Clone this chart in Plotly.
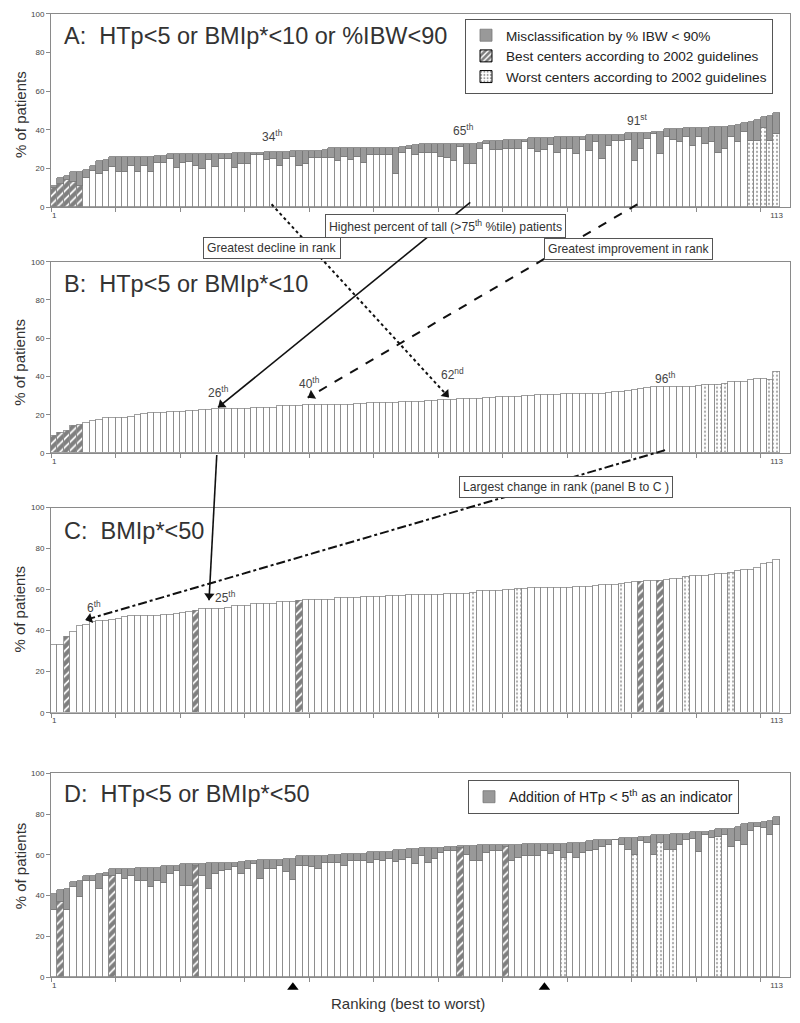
import math
import plotly.graph_objects as go

# ---------------- data ----------------
ranks = list(range(1, 114))

A_total = [11, 15, 16, 18, 18.5, 19.5, 21.5, 24, 24.5, 26,
           26, 26, 26, 26, 26, 26, 26.5, 26.5, 27.5, 27.5,
           27.5, 27.5, 27.5, 27.5, 27.5, 27.5, 27.5, 27.5, 28, 28,
           28.3, 28.3, 28.3, 28.5, 28.5, 28.5, 28.5, 29, 29, 29,
           29, 29.2, 29.5, 30.5, 30.5, 30.5, 30.5, 30.5, 30.5, 30.7,
           30.7, 30.7, 30.9, 30.9, 31, 31.5, 32, 32.5, 32.5, 32.7,
           32.7, 32.8, 32.8, 33, 33, 33, 33.2, 34.5, 34.5, 34.5,
           34.6, 34.7, 34.8, 35, 36, 36, 36, 36, 36.2, 36.2,
           36.3, 36.3, 36.5, 37.3, 37.3, 37.3, 37.4, 37.5, 37.5, 38.5,
           38.5, 38.5, 38.6, 38.7, 38.8, 40.5, 40.6, 40.7, 40.8, 40.8,
           40.9, 41, 41.5, 41.6, 41.7, 41.8, 42.5, 43.5, 44, 45,
           46.5, 47, 49]
A_base = [10, 12, 14, 13, 11, 15, 19, 17, 19, 21,
          18.5, 18.5, 21.5, 18, 21.5, 18, 23, 23, 25, 20.5,
          23, 23.5, 21.5, 20, 24.5, 21, 25, 25, 20.5, 22.5,
          22.5, 27, 27, 24.5, 25, 21.5, 25, 26, 21.5, 22.5,
          25.5, 25.5, 25.5, 25.5, 24, 26, 24.5, 26, 23, 27,
          27, 27, 27, 17, 28, 30, 27, 28, 28, 28.3,
          26.2, 25.4, 23.7, 31.4, 22.3, 22.3, 30.2, 33, 29.7, 29.7,
          30.2, 30.2, 30.2, 34, 30.2, 28.8, 29.7, 32.2, 28, 30.2,
          30.2, 27.4, 34.8, 29.3, 33.9, 24.9, 31.7, 34.3, 34.3, 34.8,
          24.2, 30, 35.1, 37.7, 27.4, 36.5, 34.8, 33.9, 36.5, 31.7,
          36.5, 33, 33.9, 28, 30.2, 36.5, 33.9, 39, 34.5, 34.5,
          41, 34.5, 38]

B_values = [9.2, 10.4, 11.8, 14.3, 14.6, 15.7, 17, 17.4, 18.6, 18.6,
            18.6, 18.7, 19.1, 19.8, 20.5, 21.2, 21.2, 21.3, 21.7, 21.7,
            21.8, 22.3, 22.3, 22.4, 22.5, 23, 23, 23, 23, 23.1,
            23.2, 23.5, 23.5, 23.6, 23.7, 24.5, 24.6, 24.7, 24.8, 25.1,
            25.2, 25.2, 25.2, 25.3, 25.3, 25.4, 25.5, 25.6, 25.8, 26.3,
            26.4, 26.4, 26.5, 26.5, 26.7, 27, 27, 27, 27.1, 27.3,
            27.8, 27.8, 28.1, 28.2, 28.2, 28.3, 28.6, 28.7, 28.8, 29.3,
            29.5, 29.6, 29.6, 29.7, 30.2, 30.3, 30.3, 30.4, 30.7, 30.8,
            30.8, 30.8, 30.9, 30.9, 31, 31, 31.7, 31.8, 31.9, 32.8,
            33, 33.8, 34.3, 34.4, 34.4, 34.5, 34.5, 34.5, 34.6, 34.7,
            35.1, 35.6, 35.7, 35.7, 36, 37.1, 37.2, 37.3, 38.5, 38.6,
            38.6, 38.4, 42.3]

C_values = [33.4, 33.4, 37, 39.8, 42.7, 43.2, 44.5, 44.7, 44.7, 45.4,
            45.7, 46.8, 47.2, 47.3, 47.3, 47.4, 47.5, 47.9, 48, 48.1,
            49, 49.3, 50, 50.7, 50.8, 50.8, 50.9, 51.5, 52, 52.1,
            52.2, 53, 53.1, 53.2, 53.3, 54.2, 54.3, 54.4, 54.5, 55,
            55.1, 55.2, 55.2, 55.3, 55.9, 56, 56, 56.1, 56.6, 56.7,
            56.8, 56.8, 56.9, 56.9, 57.2, 57.5, 57.6, 57.7, 57.7, 57.8,
            57.8, 57.9, 57.9, 58, 58.2, 58.5, 59.5, 59.6, 59.7, 59.7,
            59.8, 60, 60.3, 60.4, 60.8, 60.9, 61, 61, 61.1, 61.1,
            61.2, 61.4, 61.6, 61.7, 62.2, 62.4, 62.5, 62.7, 62.9, 63.5,
            63.7, 63.8, 64.3, 64.5, 64.6, 65.1, 65.3, 65.4, 66.5, 66.8,
            67, 67.1, 67.5, 67.6, 67.7, 68.5, 69.5, 69.8, 70, 71,
            72.6, 73.4, 74.8]

D_total = [40.6, 42.6, 43.4, 46.6, 47, 49.5, 49.8, 50.6, 51.1, 52.8,
           53, 53, 53.1, 53.6, 53.6, 53.7, 53.7, 54.4, 54.4, 54.5,
           55.5, 55.5, 55.5, 55.6, 56, 56, 56, 56.1, 56.1, 56.2,
           57.1, 57.1, 57.2, 57.2, 57.3, 57.3, 58, 58, 59.2, 59.2,
           59.3, 59.3, 59.4, 60, 60, 60.1, 60.1, 60.2, 60.2, 61.2,
           61.2, 61.3, 61.3, 62.5, 62.5, 62.6, 63, 63.3, 63.3, 63.3,
           63.5, 63.8, 64, 64.4, 64.4, 64.4, 64.5, 64.5, 64.5, 64.6,
           64.9, 64.9, 64.9, 65, 65, 65, 65.1, 65.2, 65.2, 65.3,
           65.7, 65.7, 65.8, 66.5, 67.3, 67.3, 67.3, 67.3, 68.4, 68.4,
           68.4, 68.5, 68.5, 69.4, 69.4, 69.5, 70.2, 70.2, 70.3, 70.9,
           70.9, 71, 71.8, 72.5, 72.5, 72.6, 73.8, 75, 75.7, 75.7,
           75.8, 76.7, 78.6]
D_base = [33, 36.9, 33, 44.2, 39.3, 47.1, 47.1, 43, 49.5, 49.5,
          50.6, 47.9, 49.8, 47.1, 47.1, 44.2, 47.1, 46, 50.3, 51.9,
          44.7, 44.7, 54.4, 49.5, 43, 50.6, 51.9, 52.3, 53.9, 50.6,
          52.8, 55.2, 47.9, 52.8, 52.8, 54.4, 51.6, 47.6, 54.7, 54.7,
          53.9, 52.8, 56, 56, 56, 54.7, 56.8, 56.8, 56.8, 56,
          57.6, 57.1, 58.1, 56.3, 57.6, 58.4, 55.5, 59.2, 56, 57.9,
          60.8, 61.7, 61.7, 63.3, 60, 56.8, 56.8, 60.8, 61.7, 61.7,
          63.8, 57.1, 58.4, 59.2, 59.2, 59.5, 61.7, 60.5, 61.7, 58.4,
          60.8, 58.4, 60.8, 61.7, 62.5, 64, 64.9, 67.3, 64.9, 62.5,
          60, 66.5, 65.7, 60, 65.7, 62.5, 62.5, 64.9, 67.3, 67.6,
          61.2, 69.7, 68.1, 68.9, 69.7, 63.8, 66.5, 64.9, 71.4, 73.8,
          73, 69.7, 74.6]

# best (hatched) and worst (dotted) centres according to 2002 guidelines, by rank
best_A = [1, 2, 3, 4, 5]
worst_A = [109, 110, 111, 112, 113]
best_B = [1, 2, 3, 4, 5]
worst_B = [102, 104, 105, 112, 113]
best_C = [3, 23, 39, 92, 95]
worst_C = [66, 73, 89, 99, 106]
best_D = [2, 10, 23, 64, 71]
worst_D = [80, 91, 95, 97, 104]

marked_ranks_D = [38, 77]

panel_titles = {
    "A": "A:\u00a0 HTp&lt;5 or BMIp*&lt;10 or %IBW&lt;90",
    "B": "B:\u00a0 HTp&lt;5 or BMIp*&lt;10",
    "C": "C:\u00a0 BMIp*&lt;50",
    "D": "D:\u00a0 HTp&lt;5 or BMIp*&lt;50",
}
y_ticks = [0, 20, 40, 60, 80, 100]
x_ticks = [1, 113]

# ---------------- layout helpers ----------------
W, H = 800, 1023
FONT = "Liberation Sans, Arial, sans-serif"
panel_px = {"A": (205, 10), "B": (453, 260), "C": (715, 508), "D": (982, 776)}
doms = {k: [1 - a / H, 1 - b / H] for k, (a, b) in panel_px.items()}
axis_id = {"A": "", "B": "2", "C": "3", "D": "4"}
x_left, x_right = 51, 790
bar_px = 6.45
x_range = [0.5, 0.5 + (x_right - x_left) / bar_px]
xdom = [x_left / W, x_right / W]

EDGE = "#8a8a8a"
GRAY = "#999999"


def pattern_for(best, worst):
    shp, fg, sz, sol = [], [], [], []
    for r in ranks:
        if r in best:
            shp.append("/"); fg.append("#000000"); sz.append(6); sol.append(0.7)
        elif r in worst:
            shp.append("."); fg.append("#555555"); sz.append(4); sol.append(0.25)
        else:
            shp.append(""); fg.append("#000000"); sz.append(6); sol.append(0.3)
    return shp, fg, sz, sol


fig = go.Figure()


def add_base(panel, values, best, worst):
    shp, fg, sz, sol = pattern_for(best, worst)
    fig.add_trace(go.Bar(
        x=ranks, y=values, xaxis="x" + axis_id[panel], yaxis="y" + axis_id[panel],
        marker=dict(color="white", line=dict(color=EDGE, width=0.8),
                    pattern=dict(shape=shp, fgcolor=fg, bgcolor="white",
                                 size=sz, solidity=sol, fillmode="overlay")),
        showlegend=False, hoverinfo="x+y"))


def add_extra(panel, total, base, name, legend):
    fig.add_trace(go.Bar(
        x=ranks, y=[t - b for t, b in zip(total, base)],
        xaxis="x" + axis_id[panel], yaxis="y" + axis_id[panel],
        marker=dict(color=GRAY, line=dict(color="#777777", width=0.8)),
        name=name, legend=legend, showlegend=True))


add_base("A", A_base, best_A, worst_A)
add_extra("A", A_total, A_base, "Misclassification by % IBW &lt; 90%", "legend")
fig.add_trace(go.Bar(x=[None], y=[None], name="Best centers according to 2002 guidelines",
                     marker=dict(color="white", line=dict(color="#000", width=1),
                                 pattern=dict(shape="/", fgcolor="#000", size=5, solidity=0.65)),
                     legend="legend"))
fig.add_trace(go.Bar(x=[None], y=[None], name="Worst centers according to 2002 guidelines",
                     marker=dict(color="white", line=dict(color="#000", width=1),
                                 pattern=dict(shape=".", fgcolor="#333", size=4, solidity=0.3)),
                     legend="legend"))
add_base("B", B_values, best_B, worst_B)
add_base("C", C_values, best_C, worst_C)
add_base("D", D_base, best_D, worst_D)
add_extra("D", D_total, D_base, "Addition of HTp &lt; 5<sup>th</sup> as an indicator", "legend2")

# marked ranks below panel D: drawn in a thin helper axis strip under panel D
fig.add_trace(go.Scatter(x=marked_ranks_D, y=[0.5] * len(marked_ranks_D), xaxis="x4", yaxis="y5",
                         mode="markers", showlegend=False, hoverinfo="x",
                         marker=dict(symbol="triangle-up", size=10, color="black")))

layout = dict(width=W, height=H, margin=dict(l=0, r=0, t=0, b=0),
              plot_bgcolor="white", paper_bgcolor="white", barmode="stack", bargap=0,
              font=dict(family=FONT, color="#333"), showlegend=True)

for p in "ABCD":
    k = axis_id[p]
    layout["xaxis" + k] = dict(domain=xdom, range=x_range, anchor="y" + k,
                               tickmode="array", tickvals=x_ticks, ticktext=[str(t) for t in x_ticks],
                               ticks="", tickfont=dict(size=8, color="#444"),
                               showline=True, linecolor=EDGE, linewidth=1, mirror=True,
                               showgrid=False, zeroline=False,
                               minor=dict(tickmode="array", tickvals=[0.5 + 10 * i for i in range(12)],
                                          ticks="outside", ticklen=4, tickcolor=EDGE))
    layout["yaxis" + k] = dict(domain=doms[p], range=[0, 100], anchor="x" + k,
                               tickmode="array", tickvals=y_ticks, ticks="outside", ticklen=4,
                               tickcolor=EDGE, tickfont=dict(size=8, color="#444"),
                               showline=True, linecolor=EDGE, linewidth=1, mirror=True,
                               showgrid=False, zeroline=False)
layout["yaxis5"] = dict(domain=[1 - 1000 / H, 1 - 984 / H], range=[0, 1], anchor="x4",
                        visible=False, fixedrange=True)

layout["legend"] = dict(x=465 / W, y=1 - 15 / H, xanchor="left", yanchor="top",
                        bordercolor="#555", borderwidth=1, bgcolor="white",
                        font=dict(size=13.6, color="#222"), traceorder="normal")
layout["legend2"] = dict(x=468 / W, y=1 - 783 / H, xanchor="left", yanchor="top",
                         bordercolor="#555", borderwidth=1, bgcolor="white",
                         font=dict(size=14, color="#222"))
fig.update_layout(**layout)


def yp(panel, v):
    d = doms[panel]
    return d[0] + v / 100 * (d[1] - d[0])


values_of = {"A": A_total, "B": B_values, "C": C_values, "D": D_total}

annotations = []
shapes = []

title_y_px = {"A": 32, "B": 282, "C": 532, "D": 797}
ytitle_px = {"A": 112, "B": 362, "C": 611, "D": 870}
for p in "ABCD":
    annotations.append(dict(text=panel_titles[p], xref="paper", yref="paper", x=62 / W,
                            y=1 - title_y_px[p] / H, xanchor="left", yanchor="middle",
                            showarrow=False, font=dict(size=23.5, color="#333")))
    annotations.append(dict(text="% of patients", xref="paper", yref="paper", x=20 / W,
                            y=1 - ytitle_px[p] / H, textangle=-90, showarrow=False,
                            xanchor="center", yanchor="middle", font=dict(size=15, color="#333")))

annotations.append(dict(text="Ranking (best to worst)", xref="paper", yref="paper",
                        x=408 / W, y=1 - 1008 / H, xanchor="center", yanchor="middle",
                        showarrow=False, font=dict(size=15, color="#333")))

# rank labels: (panel, rank, text, dx, dy)
rank_labels = [
    ("A", 34, "34<sup>th</sup>", 0.9, 8.5),
    ("A", 65, "65<sup>th</sup>", -0.5, 7),
    ("A", 91, "91<sup>st</sup>", 0.4, 6.5),
    ("B", 26, "26<sup>th</sup>", 0.5, 9.1),
    ("B", 40, "40<sup>th</sup>", 0.5, 11.7),
    ("B", 62, "62<sup>nd</sup>", 0.7, 13.7),
    ("B", 96, "96<sup>th</sup>", -0.2, 4.9),
    ("C", 6, "6<sup>th</sup>", 1.2, 8.5),
    ("C", 25, "25<sup>th</sup>", 2.6, 5.7),
]
for p, r, t, dx, dy in rank_labels:
    k = axis_id[p]
    annotations.append(dict(text=t, xref="x" + k, yref="y" + k, x=r + dx,
                            y=values_of[p][r - 1] + dy, xanchor="center", yanchor="middle",
                            showarrow=False, font=dict(size=12, color="#444")))

# connecting lines: (from panel, from pos, from value, to panel, to pos, to rank, tip offset, dash, width)
connectors = [
    ("A", 34.7, 1.5, "B", 62.2, 62, 1.2, "dot", 2),
    ("A", 65.5, 2.5, "B", 26.4, 26, 0.8, "solid", 1.6),
    ("B", 26.2, -1.0, "C", 25.0, 25, 4.0, "solid", 1.6),
    ("A", 91.4, 1.5, "B", 40.3, 40, 3.8, "dash", 2),
    ("B", 95.7, 1.5, "C", 5.8, 6, 2.0, "dashdot", 2),
]
head_size = 9
for sp, sx, sv, tp, tx, tr, toff, dash, w in connectors:
    tv = values_of[tp][tr - 1] + toff
    y0 = yp(sp, sv)
    y1 = yp(tp, tv)
    shapes.append(dict(type="line", xref="x", yref="paper", x0=sx, y0=y0, x1=tx, y1=y1,
                       line=dict(color="#111", width=w, dash=dash)))
    ux = (tx - sx) * bar_px
    uy = (y0 - y1) * H
    L = math.hypot(ux, uy)
    ux, uy = ux / L, uy / L
    ang = math.degrees(math.atan2(ux, -uy))
    back = head_size / 2
    pxpp = (panel_px[tp][0] - panel_px[tp][1]) / 100
    k = axis_id[tp]
    fig.add_trace(go.Scatter(x=[tx - back * ux / bar_px], y=[tv + back * uy / pxpp],
                             xaxis="x" + k, yaxis="y" + k, mode="markers", cliponaxis=False,
                             showlegend=False, hoverinfo="skip",
                             marker=dict(symbol="triangle-up", size=head_size, angle=ang,
                                         color="#111", line=dict(width=0))))

notes = [
    ("Highest percent of tall (&gt;75<sup>th</sup> %tile) patients", 445, 224),
    ("Greatest decline in rank", 272, 246),
    ("Greatest improvement in rank", 628, 247),
    ("Largest change in rank (panel B to C )", 566, 487),
]
for t, cx, cy in notes:
    annotations.append(dict(text=t, xref="paper", yref="paper", x=cx / W, y=1 - cy / H,
                            xanchor="center", yanchor="middle",
                            showarrow=False, bgcolor="white", bordercolor="#555",
                            borderwidth=1, borderpad=3, font=dict(size=12.2, color="#333")))

fig.update_layout(annotations=annotations, shapes=shapes)

fig.write_html("out.html", config={"displayModeBar": False},
               post_script="document.body.style.margin='0px';")
